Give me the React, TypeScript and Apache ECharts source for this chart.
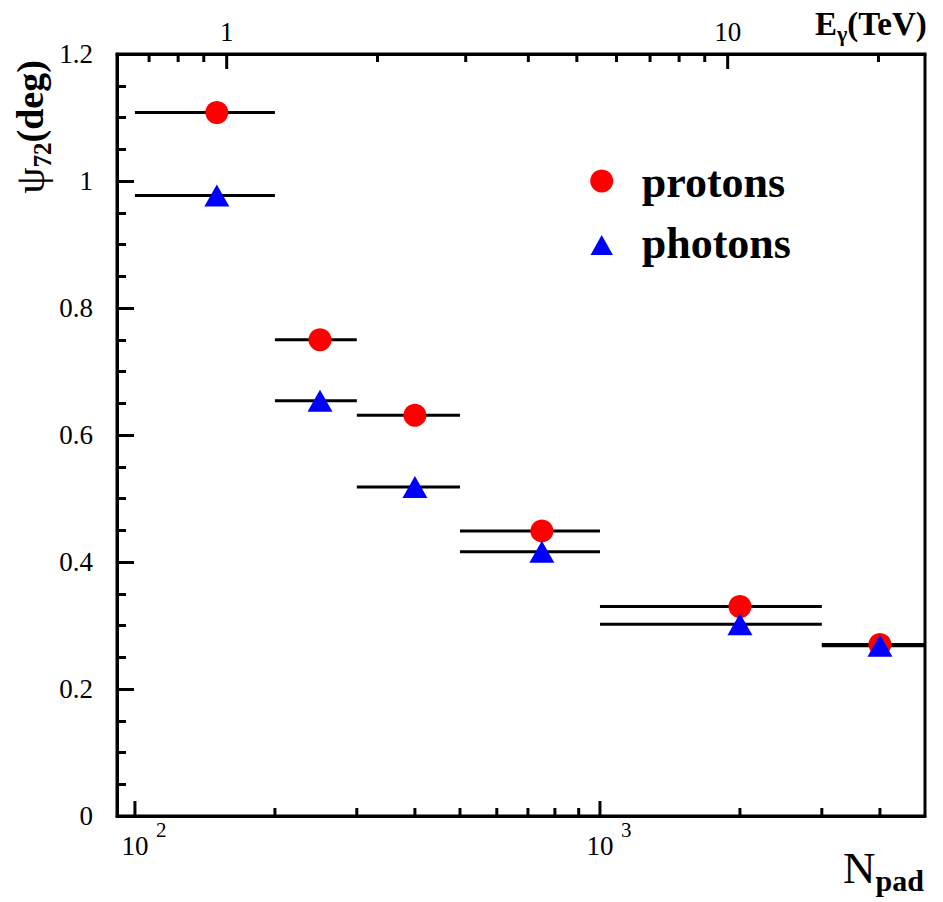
import React, { useEffect, useRef } from "react";
import * as echarts from "echarts";

// ---- data ----
const binLow = [100, 200, 300, 500, 1000, 3000];
const binHigh = [200, 300, 500, 1000, 3000, 5000];
const nPad = [150, 250, 400, 750, 2000, 4000];
const protons = [1.108, 0.75, 0.631, 0.449, 0.33, 0.27];
const photons = [0.977, 0.654, 0.518, 0.416, 0.302, 0.268];

// bottom axis (N_pad) ticks
const bottomMajor = [100, 1000];
const bottomMinor = [200, 300, 400, 500, 600, 700, 800, 900, 2000, 3000, 4000];
const bottomBase = "10";
const bottomExp = ["2", "3"];
// top axis (E_gamma, TeV) ticks
const topMajor = [1, 10];
const topMinor = [0.7, 0.8, 0.9, 2, 3, 4, 5, 6, 7, 8, 9, 20];
const topLabels = ["1", "10"];

const FONT = "'Liberation Serif', 'DejaVu Serif', serif";

function tickSeries(vals: number[], xAxisIndex: number, yVal: number, len: number, dir: number) {
  return {
    type: "custom",
    xAxisIndex,
    yAxisIndex: 0,
    silent: true,
    z: 5,
    data: vals.map((v) => [v, yVal]),
    renderItem: (_p: any, api: any) => {
      const p = api.coord([api.value(0), api.value(1)]);
      return {
        type: "line",
        shape: { x1: p[0], y1: p[1], x2: p[0], y2: p[1] + dir * len },
        style: { stroke: "#000", lineWidth: 3 },
      };
    },
  };
}

function barSeries(vals: number[]) {
  return {
    type: "custom",
    xAxisIndex: 0,
    yAxisIndex: 0,
    silent: true,
    z: 2,
    data: vals.map((v, i) => [nPad[i], v, binLow[i], binHigh[i]]),
    renderItem: (_p: any, api: any) => {
      const a = api.coord([api.value(2), api.value(1)]);
      const b = api.coord([api.value(3), api.value(1)]);
      return {
        type: "line",
        shape: { x1: a[0], y1: a[1], x2: b[0], y2: b[1] },
        style: { stroke: "#000", lineWidth: 3 },
      };
    },
  };
}

export default function App() {
  const ref = useRef<HTMLDivElement>(null);
  useEffect(() => {
    if (!ref.current) return;
    const chart = echarts.init(ref.current, null, { renderer: "svg" });
    const option: any = {
      animation: false,
      backgroundColor: "#ffffff",
      grid: {
        left: 117,
        top: 54,
        width: 808,
        height: 762,
        show: true,
        borderColor: "#000",
        borderWidth: 3,
        backgroundColor: "transparent",
      },
      xAxis: [
        {
          type: "log",
          logBase: 10,
          min: 91.5,
          max: 5000,
          position: "bottom",
          axisLine: { show: true, lineStyle: { color: "#000", width: 3 } },
          axisTick: { show: false },
          axisLabel: { show: false },
          splitLine: { show: false },
        },
        {
          type: "log",
          logBase: 10,
          min: 0.604,
          max: 24.77,
          position: "top",
          axisLine: { show: true, lineStyle: { color: "#000", width: 3 } },
          axisTick: { show: false },
          axisLabel: { show: false },
          splitLine: { show: false },
        },
      ],
      yAxis: [
        {
          type: "value",
          min: 0,
          max: 1.2,
          interval: 0.2,
          axisLine: { show: true, lineStyle: { color: "#000", width: 3 } },
          axisTick: { show: true, inside: true, length: 17, lineStyle: { color: "#000", width: 3 } },
          minorTick: { show: true, splitNumber: 4, length: 9, lineStyle: { color: "#000", width: 3 } },
          axisLabel: { color: "#000", fontSize: 27, fontFamily: FONT, margin: 24 },
          splitLine: { show: false },
        },
      ],
      series: [
        tickSeries(bottomMajor, 0, 0, 15, -1),
        tickSeries(bottomMinor, 0, 0, 8, -1),
        tickSeries(topMajor, 1, 1.2, 15, 1),
        tickSeries(topMinor, 1, 1.2, 8, 1),
        {
          type: "custom",
          xAxisIndex: 0,
          yAxisIndex: 0,
          silent: true,
          data: bottomMajor.map((v) => [v, 0]),
          renderItem: (params: any, api: any) => {
            const p = api.coord([api.value(0), api.value(1)]);
            return {
              type: "group",
              children: [
                {
                  type: "text",
                  style: {
                    text: bottomBase,
                    x: p[0],
                    y: p[1] + 30,
                    align: "center",
                    verticalAlign: "middle",
                    fontSize: 27,
                    fontFamily: FONT,
                    fill: "#000",
                  },
                },
                {
                  type: "text",
                  style: {
                    text: bottomExp[params.dataIndex],
                    x: p[0] + 21,
                    y: p[1] + 14,
                    align: "left",
                    verticalAlign: "middle",
                    fontSize: 21,
                    fontFamily: FONT,
                    fill: "#000",
                  },
                },
              ],
            };
          },
        },
        {
          type: "custom",
          xAxisIndex: 1,
          yAxisIndex: 0,
          silent: true,
          data: topMajor.map((v) => [v, 1.2]),
          renderItem: (params: any, api: any) => {
            const p = api.coord([api.value(0), api.value(1)]);
            return {
              type: "text",
              style: {
                text: topLabels[params.dataIndex],
                x: p[0],
                y: p[1] - 22,
                align: "center",
                verticalAlign: "middle",
                fontSize: 27,
                fontFamily: FONT,
                fill: "#000",
              },
            };
          },
        },
        barSeries(protons),
        barSeries(photons),
        {
          name: "protons",
          type: "scatter",
          z: 3,
          symbol: "circle",
          symbolSize: 23,
          itemStyle: { color: "#ff0000", opacity: 1 },
          data: protons.map((v, i) => [nPad[i], v]),
        },
        {
          name: "photons",
          type: "scatter",
          z: 4,
          symbol: "triangle",
          symbolSize: [25, 22],
          itemStyle: { color: "#0000ff", opacity: 1 },
          data: photons.map((v, i) => [nPad[i], v]),
        },
      ],
      graphic: [
        // legend
        { type: "circle", shape: { cx: 601.7, cy: 181, r: 11.5 }, style: { fill: "#ff0000" } },
        {
          type: "polygon",
          shape: { points: [[601.7, 235], [590.5, 255], [612.9, 255]] },
          style: { fill: "#0000ff" },
        },
        {
          type: "text",
          x: 641.7,
          y: 182,
          style: { text: "protons", fontSize: 44, fontWeight: "bold", fontFamily: FONT, fill: "#000", align: "left", verticalAlign: "middle" },
        },
        {
          type: "text",
          x: 641.7,
          y: 243.5,
          style: { text: "photons", fontSize: 44, fontWeight: "bold", fontFamily: FONT, fill: "#000", align: "left", verticalAlign: "middle" },
        },
        // y axis title
        {
          type: "text",
          x: 30,
          y: 127,
          rotation: Math.PI / 2,
          style: {
            text: "{p|ψ}{b|72}{a|(deg)}",
            align: "center",
            verticalAlign: "middle",
            fill: "#000",
            rich: {
              p: { fontSize: 42, fontFamily: FONT, lineHeight: 50, verticalAlign: "middle", fill: "#000" },
              a: { fontSize: 38, fontWeight: "bold", fontFamily: FONT, lineHeight: 50, verticalAlign: "middle", fill: "#000" },
              b: { fontSize: 25, fontWeight: "bold", fontFamily: FONT, lineHeight: 20, verticalAlign: "bottom", fill: "#000" },
            },
          },
        },
        // top axis title
        {
          type: "text",
          x: 815,
          y: 24,
          style: {
            text: "{a|E}{b|γ}{a|(TeV)}",
            align: "left",
            verticalAlign: "middle",
            fill: "#000",
            rich: {
              a: { fontSize: 33, fontWeight: "bold", fontFamily: FONT, lineHeight: 40, verticalAlign: "middle", fill: "#000" },
              b: { fontSize: 22, fontWeight: "bold", fontFamily: FONT, lineHeight: 16, verticalAlign: "bottom", fill: "#000" },
            },
          },
        },
        // bottom axis title
        {
          type: "text",
          x: 843,
          y: 868,
          style: {
            text: "{a|N}{b|pad}",
            align: "left",
            verticalAlign: "middle",
            fill: "#000",
            rich: {
              a: { fontSize: 45, fontFamily: FONT, lineHeight: 54, verticalAlign: "middle", fill: "#000" },
              b: { fontSize: 30, fontWeight: "bold", fontFamily: FONT, lineHeight: 24, verticalAlign: "bottom", fill: "#000" },
            },
          },
        },
      ],
    };
    chart.setOption(option);
    return () => chart.dispose();
  }, []);
  return (
    <div
      ref={ref}
      style={{ position: "fixed", left: 0, top: 0, width: 943, height: 902, background: "#fff" }}
    />
  );
}
